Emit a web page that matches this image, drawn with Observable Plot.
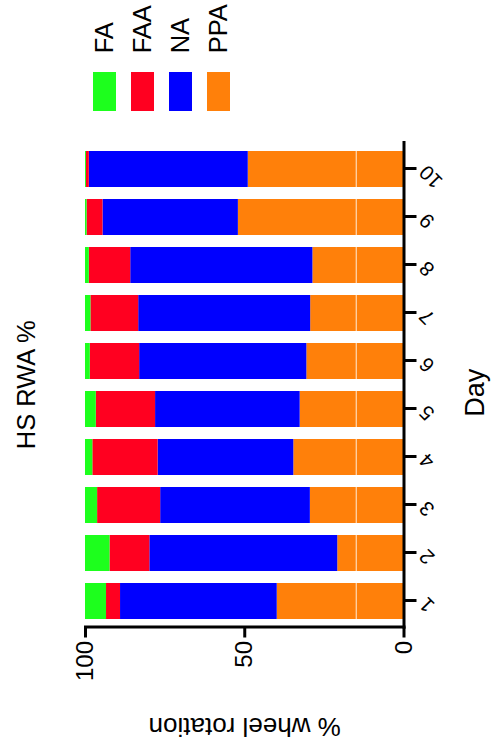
<!DOCTYPE html>
<html>
<head>
<meta charset="utf-8">
<script src="https://cdn.jsdelivr.net/npm/d3@7"></script>
<script src="https://cdn.jsdelivr.net/npm/@observablehq/plot@0.6"></script>
<style>
  html, body { margin: 0; padding: 0; background: #fff; overflow: hidden; }
  /* The figure is laid out upright (751 x 494) and then turned a quarter turn counter-clockwise */
  #page {
    position: absolute; left: 0; top: 0; width: 751px; height: 494px;
    transform-origin: 0 0; transform: translate(0, 751px) rotate(-90deg);
    font-family: "Liberation Sans", Arial, Helvetica, sans-serif; color: #000;
  }
  #page svg { position: absolute; left: 0; top: 0; }
  .swatch { position: absolute; width: 39px; height: 23px; }
  .key { position: absolute; font-size: 25.5px; line-height: 25.5px; white-space: nowrap; }
</style>
</head>
<body>
<div id="page"></div>
<script>
// Daily share of wheel rotation per phase (percent of total)
const days = ["1", "2", "3", "4", "5", "6", "7", "8", "9", "10"];
const series = ["FA", "FAA", "NA", "PPA"];
const colors = ["#1dff1d", "#ff0020", "#0000ff", "#ff800a"];
const fa  = [6.6, 7.7, 3.8, 2.3, 3.4, 1.5, 1.7, 1.2, 0.5, 0.3];
const faa = [4.4, 12.5, 19.8, 20.5, 18.6, 15.5, 15.0, 13.0, 5.0, 0.9];
const na  = [49.2, 59.0, 47.0, 42.6, 45.4, 52.5, 54.0, 57.2, 42.5, 49.9];
const ppa = [39.8, 20.8, 29.4, 34.6, 32.6, 30.5, 29.3, 28.6, 52.0, 48.9];
const valueTicks = [0, 50, 100];
const refLine = 15;

const title = "HS RWA %";
const xLabel = "Day";
const yLabel = "% wheel rotation";

// Long table; PPA first so it sits at the base of each stack
const bySeries = {FA: fa, FAA: faa, NA: na, PPA: ppa};
const stackOrder = ["PPA", "NA", "FAA", "FA"];
const rows = [];
for (const s of stackOrder) {
  days.forEach((d, i) => rows.push({day: d, series: s, value: bySeries[s][i]}));
}

const chart = Plot.plot({
  width: 751,
  height: 494,
  marginTop: 85,
  marginBottom: 90.5,
  marginLeft: 123.5,
  marginRight: 143,
  style: {fontFamily: "Liberation Sans, Arial, Helvetica, sans-serif", color: "#000", background: "transparent", overflow: "visible"},
  x: {domain: days, paddingInner: 0.24, paddingOuter: 0.12, axis: null},
  y: {domain: [0, 100], axis: null},
  color: {domain: series, range: colors},
  marks: [
    Plot.barY(rows, {x: "day", y: "value", fill: "series", order: stackOrder}),
    Plot.ruleY([refLine], {stroke: "#fff", strokeWidth: 1, strokeOpacity: 0.85}),
    Plot.frame({anchor: "left", stroke: "#000", strokeWidth: 3}),
    Plot.frame({anchor: "bottom", stroke: "#000", strokeWidth: 3}),
    Plot.axisY({ticks: valueTicks, tickSize: 10, tickPadding: 4, fontSize: 24, strokeWidth: 3, label: null, tickFormat: d => String(d)}),
    Plot.axisX({tickSize: 13, tickPadding: 6, tickRotate: -45, fontSize: 20.5, strokeWidth: 3, label: null}),
    Plot.text([yLabel], {text: d => d, frameAnchor: "left", rotate: -90, dx: -99, fontSize: 26, textAnchor: "middle", lineAnchor: "middle"}),
    Plot.text([xLabel], {text: d => d, frameAnchor: "bottom", dx: -8, dy: 71, fontSize: 27, textAnchor: "middle", lineAnchor: "middle"}),
    Plot.text([title], {text: d => d, frameAnchor: "top", dy: -59, fontSize: 25.5, textAnchor: "middle", lineAnchor: "middle"})
  ]
});

const page = document.getElementById("page");
page.appendChild(chart);

// Legend: swatch and name per series, stacked down the right side
series.forEach((s, i) => {
  const top = 93.3 + 37.8 * i;
  const sw = document.createElement("div");
  sw.className = "swatch";
  sw.style.left = "640px";
  sw.style.top = top + "px";
  sw.style.background = colors[i];
  page.appendChild(sw);
  const key = document.createElement("div");
  key.className = "key";
  key.textContent = s;
  key.style.left = "697.7px";
  key.style.top = (top + 11.5 - 0.4885 * 25.5) + "px";
  page.appendChild(key);
});
</script>
</body>
</html>
